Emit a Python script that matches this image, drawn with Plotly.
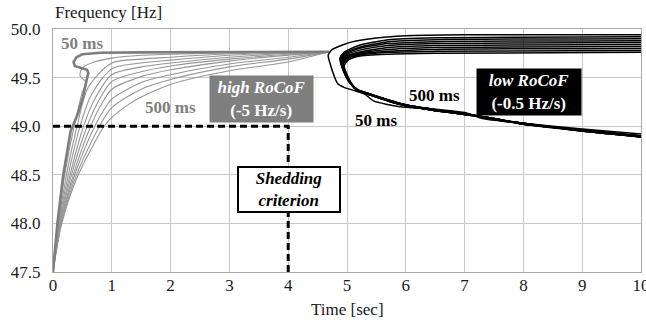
import plotly.graph_objects as go

# ---------------- data ----------------
x_ticks = [0, 1, 2, 3, 4, 5, 6, 7, 8, 9, 10]
y_ticks = [47.5, 48.0, 48.5, 49.0, 49.5, 50.0]

# high RoCoF (-5 Hz/s): delays 50 ms ... 500 ms (grey)
high_delays = [50, 100, 150, 200, 250, 300, 350, 400, 450, 500]
high_t = [
    [0, 0.075, 0.175, 0.30, 0.425, 0.51, 0.57, 0.60, 0.58, 0.37, 0.35, 0.40, 0.50, 0.80, 1.5, 4.7],
    [0, 0.083, 0.20, 0.36, 0.50, 0.56, 0.46, 0.50, 0.70, 1.0, 1.5, 2.0, 3.0, 4.0, 4.7],
    [0, 0.092, 0.23, 0.41, 0.60, 1.0, 1.5, 2.0, 3.0, 4.0, 4.7],
    [0, 0.10, 0.26, 0.46, 0.65, 1.0, 1.5, 2.0, 3.0, 4.0, 4.7],
    [0, 0.108, 0.29, 0.52, 0.70, 1.0, 1.5, 2.0, 3.0, 4.0, 4.7],
    [0, 0.117, 0.315, 0.58, 0.75, 1.0, 1.5, 2.0, 3.0, 4.0, 4.7],
    [0, 0.125, 0.345, 0.64, 0.80, 1.0, 1.5, 2.0, 3.0, 4.0, 4.7],
    [0, 0.133, 0.37, 0.71, 0.90, 1.0, 1.5, 2.0, 3.0, 4.0, 4.7],
    [0, 0.142, 0.40, 0.79, 1.0, 1.5, 2.0, 3.0, 4.0, 4.7],
    [0, 0.15, 0.43, 0.87, 1.0, 1.3, 1.5, 2.0, 3.0, 4.0, 4.7],
]
high_f = [
    [47.5, 48.0, 48.5, 48.95, 49.13, 49.30, 49.47, 49.55, 49.58, 49.62, 49.66, 49.71, 49.74, 49.755, 49.76, 49.765],
    [47.5, 48.0, 48.5, 49.0, 49.35, 49.45, 49.52, 49.60, 49.66, 49.70, 49.73, 49.74, 49.755, 49.76, 49.765],
    [47.5, 48.0, 48.5, 49.0, 49.40, 49.65, 49.69, 49.71, 49.745, 49.76, 49.765],
    [47.5, 48.0, 48.5, 49.0, 49.32, 49.59, 49.65, 49.68, 49.73, 49.755, 49.765],
    [47.5, 48.0, 48.5, 49.0, 49.27, 49.53, 49.61, 49.65, 49.71, 49.75, 49.765],
    [47.5, 48.0, 48.5, 49.0, 49.23, 49.46, 49.56, 49.62, 49.69, 49.74, 49.765],
    [47.5, 48.0, 48.5, 49.0, 49.20, 49.38, 49.51, 49.58, 49.67, 49.73, 49.765],
    [47.5, 48.0, 48.5, 49.0, 49.20, 49.28, 49.45, 49.53, 49.64, 49.71, 49.765],
    [47.5, 48.0, 48.5, 49.0, 49.19, 49.38, 49.48, 49.61, 49.69, 49.765],
    [47.5, 48.0, 48.5, 49.0, 49.09, 49.23, 49.30, 49.43, 49.57, 49.66, 49.765],
]

# low RoCoF (-0.5 Hz/s): delays 50 ms ... 500 ms (black)
low_t = [
    [10, 9, 8, 7.3, 7.0, 6.4, 5.9, 5.45, 5.3, 4.95, 4.84, 4.78, 4.72, 4.68, 4.75, 4.9, 5.1, 5.4, 6.0, 7.0, 10],
    [10, 9, 8, 7.5, 7.0, 6.5, 6.0, 5.7, 5.4, 5.16, 5.02, 4.93, 4.88, 4.95, 5.2, 5.7, 6.5, 10],
    [10, 9, 8, 7.5, 7.0, 6.5, 6.0, 5.7, 5.4, 5.17, 5.03, 4.94, 4.89, 4.96, 5.2, 5.7, 6.5, 10],
    [10, 9, 8, 7.5, 7.0, 6.5, 6.0, 5.7, 5.4, 5.17, 5.04, 4.95, 4.90, 4.97, 5.2, 5.7, 6.5, 10],
    [10, 9, 8, 7.5, 7.0, 6.5, 6.0, 5.7, 5.4, 5.18, 5.05, 4.95, 4.90, 4.97, 5.2, 5.7, 6.5, 10],
    [10, 9, 8, 7.5, 7.0, 6.5, 6.0, 5.7, 5.4, 5.18, 5.05, 4.96, 4.91, 4.98, 5.2, 5.7, 6.5, 10],
    [10, 9, 8, 7.5, 7.0, 6.5, 6.0, 5.7, 5.4, 5.19, 5.06, 4.97, 4.92, 4.99, 5.2, 5.7, 6.5, 10],
    [10, 9, 8, 7.5, 7.0, 6.5, 6.0, 5.7, 5.4, 5.19, 5.07, 4.98, 4.93, 5.00, 5.2, 5.7, 6.5, 10],
    [10, 9, 8, 7.5, 7.0, 6.5, 6.0, 5.7, 5.4, 5.20, 5.08, 4.99, 4.94, 5.01, 5.2, 5.7, 6.5, 10],
    [10, 9, 8, 7.5, 7.0, 6.5, 6.0, 5.7, 5.4, 5.20, 5.09, 5.00, 4.95, 5.02, 5.2, 5.7, 6.5, 10],
]
low_f = [
    [48.92, 48.97, 49.03, 49.08, 49.14, 49.18, 49.20, 49.26, 49.33, 49.40, 49.44, 49.52, 49.63, 49.73, 49.79, 49.83, 49.87, 49.90, 49.93, 49.94, 49.94],
    [48.90, 48.96, 49.03, 49.08, 49.13, 49.17, 49.21, 49.27, 49.33, 49.38, 49.47, 49.58, 49.70, 49.76, 49.83, 49.89, 49.91, 49.92],
    [48.89, 48.95, 49.02, 49.07, 49.13, 49.17, 49.22, 49.27, 49.32, 49.38, 49.46, 49.57, 49.69, 49.75, 49.81, 49.87, 49.89, 49.90],
    [48.90, 48.96, 49.02, 49.08, 49.12, 49.16, 49.21, 49.26, 49.32, 49.37, 49.46, 49.56, 49.68, 49.74, 49.80, 49.85, 49.87, 49.88],
    [48.89, 48.95, 49.03, 49.07, 49.13, 49.17, 49.22, 49.27, 49.33, 49.37, 49.45, 49.56, 49.67, 49.73, 49.78, 49.83, 49.85, 49.86],
    [48.90, 48.96, 49.02, 49.08, 49.12, 49.16, 49.21, 49.26, 49.32, 49.36, 49.45, 49.55, 49.66, 49.72, 49.76, 49.81, 49.83, 49.84],
    [48.89, 48.95, 49.03, 49.07, 49.13, 49.17, 49.22, 49.27, 49.33, 49.37, 49.44, 49.55, 49.65, 49.71, 49.75, 49.79, 49.81, 49.82],
    [48.90, 48.96, 49.02, 49.08, 49.12, 49.16, 49.21, 49.26, 49.32, 49.36, 49.44, 49.54, 49.64, 49.70, 49.74, 49.77, 49.79, 49.80],
    [48.89, 48.95, 49.03, 49.07, 49.13, 49.17, 49.22, 49.27, 49.33, 49.37, 49.43, 49.54, 49.63, 49.69, 49.73, 49.76, 49.77, 49.78],
    [48.90, 48.96, 49.02, 49.08, 49.12, 49.16, 49.21, 49.26, 49.32, 49.36, 49.43, 49.53, 49.62, 49.68, 49.72, 49.74, 49.75, 49.76],
]

# shedding criterion: 49.0 Hz reached within 4 s
crit_t = [0, 4, 4]
crit_f = [49.0, 49.0, 47.5]

# ---------------- figure ----------------
FONT = "Liberation Serif, Times New Roman, Times, serif"
fig = go.Figure()

for i in range(len(high_delays) - 1, -1, -1):
    thick = i == 0
    fig.add_trace(go.Scatter(
        x=high_t[i], y=high_f[i], mode="lines",
        line=dict(color="#7d7d7d" if thick else "#969696",
                  width=2.6 if thick else 1.1,
                  shape="linear" if thick else "spline", smoothing=0.8),
        hoverinfo="skip"))

for i in range(len(low_t) - 1, -1, -1):
    fig.add_trace(go.Scatter(
        x=low_t[i], y=low_f[i], mode="lines",
        line=dict(color="#000000", width=1.5, shape="spline", smoothing=0.6),
        hoverinfo="skip"))

fig.add_trace(go.Scatter(
    x=crit_t, y=crit_f, mode="lines",
    line=dict(color="#000000", width=3, dash="7px,4px"),
    hoverinfo="skip"))

grey = "#7f7f7f"
ann = [
    dict(x=0.49, y=49.85, text="<b>50 ms</b>", font=dict(color=grey)),
    dict(x=1.99, y=49.19, text="<b>500 ms</b>", font=dict(color=grey)),
    dict(x=6.48, y=49.32, text="<b>500 ms</b>", font=dict(color="#000")),
    dict(x=5.49, y=49.06, text="<b>50 ms</b>", font=dict(color="#000")),
    dict(x=3.55, y=49.28, text="<b><i>high RoCoF</i></b><br><b>(-5 Hz/s)</b>",
         font=dict(color="#ffffff"), bgcolor=grey, width=99, height=42, borderpad=2),
    dict(x=8.10, y=49.35, text="<b><i>low RoCoF</i></b><br><b>(-0.5 Hz/s)</b>",
         font=dict(color="#ffffff"), bgcolor="#000000", width=100, height=42, borderpad=2),
    dict(x=4.01, y=48.35, text="<b><i>Shedding</i></b><br><b><i>criterion</i></b>",
         font=dict(color="#000"), bgcolor="#ffffff", bordercolor="#000000",
         borderwidth=2, width=98, height=41, borderpad=1),
]
for a in ann:
    a.setdefault("showarrow", False)
    a["xref"] = "x"
    a["yref"] = "y"
    a["font"] = dict(family=FONT, size=17, **a["font"])
    fig.add_annotation(**a)

fig.add_annotation(x=0, y=1.066, xref="paper", yref="paper", xanchor="left",
                   yanchor="middle", showarrow=False, text="Frequency [Hz]",
                   font=dict(family=FONT, size=17, color="#1a1a1a"))
fig.add_annotation(x=0.5, y=-0.156, xref="paper", yref="paper", xanchor="center",
                   yanchor="middle", showarrow=False, text="Time [sec]",
                   font=dict(family=FONT, size=17, color="#1a1a1a"))

fig.update_layout(
    width=646, height=327,
    margin=dict(l=53, r=5, t=29, b=55),
    plot_bgcolor="white", paper_bgcolor="white",
    showlegend=False,
    font=dict(family=FONT, size=17, color="#1a1a1a"),
)
fig.update_xaxes(range=[0, 10], tickvals=x_ticks, ticktext=[str(v) for v in x_ticks],
                 showgrid=True, gridcolor="#c8c8c8", gridwidth=1,
                 showline=True, linecolor="#a8a8a8", linewidth=1, mirror=True,
                 zeroline=False, ticks="", ticklabelstandoff=-2, ticklabeloverflow="allow",
                 automargin=False)
fig.update_yaxes(range=[47.5, 50.0], tickvals=y_ticks, ticktext=[f"{v:.1f}" for v in y_ticks],
                 showgrid=True, gridcolor="#c8c8c8", gridwidth=1,
                 showline=True, linecolor="#a8a8a8", linewidth=1, mirror=True,
                 zeroline=False, ticks="", ticklabelstandoff=8, automargin=False)

fig.write_html("out.html", config={"responsive": False, "displayModeBar": False},
               post_script="document.body.style.margin='0';document.body.style.overflow='hidden';")
